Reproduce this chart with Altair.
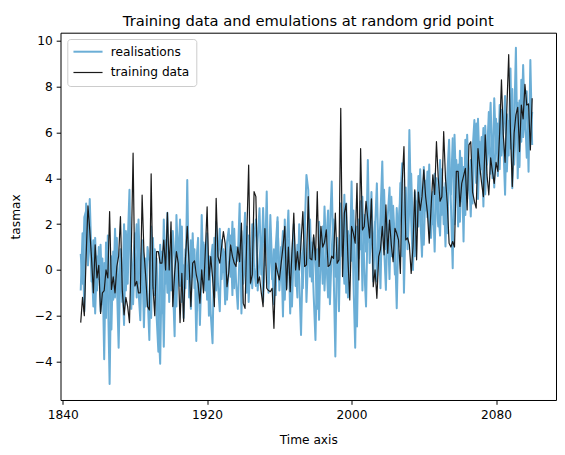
import altair as alt
import pandas as pd

start_year = 1850

training = [
    -2.3, -1.2, -2.0, 0.6, 2.8, 1.75, 0.5, -1.0, 1.1, -0.35,
    0.2, -1.9, -1.0, -0.9, 0.0, -0.35, 2.55, -0.85, -0.3, -1.0,
    0.15, 0.6, 2.33, -0.87, -1.96, -1.2, -1.6, -2.3, 0.8, 5.1,
    -0.7, -0.5, -1.0, -1.0, 3.27, 0.8, -0.3, -1.6, -1.75, 4.2,
    -0.7, -2.0, 0.8, 0.8, 0.3, 0.3, 1.3, 0.0, 2.5, 0.0,
    2.1, -1.6, -0.15, 0.8, 0.3, -2.3, -0.15, -2.25, 0.5, 1.9,
    0.3, -1.6, 0.3, 0.4, -0.2, -0.6, -1.45, 0.0, -1.0, 0.8,
    2.76, -0.44, 0.58, -0.3, -1.6, 3.13, 0.58, 0.3, 1.0, 1.67,
    1.15, -0.73, -0.1, 1.09, 0.6, 0.3, 0.15, 1.0, 0.36, 2.04,
    -1.45, -1.68, 1.6, 4.58, -0.58, -0.2, 3.42, 3.2, -0.58, -0.3,
    -1.0, -1.6, 1.8, -0.8, -0.9, -0.95, -0.8, -2.55, 0.3, -0.1,
    -0.44, 0.3, 1.0, 1.9, -0.87, 1.0, -0.95, 0.8, 2.48, 0.0,
    0.8, 0.0, 1.2, 2.55, 0.15, 0.22, 3.2, 0.5, 0.44, 1.53,
    0.44, 3.42, 0.15, 1.9, 1.0, 1.2, 1.75, 0.15, 0.22, 0.6,
    0.5, 2.48, 0.29, 0.44, 7.06, -0.29, 2.48, 2.9, 0.44, -1.31,
    1.9, 1.6, 1.17, 3.78, -0.44, 5.3, 1.75, 1.9, 3.0, 2.2,
    1.4, 3.1, -0.73, 0.0, -1.24, 0.58, 0.9, 1.9, 0.66, 2.84,
    0.73, 2.18, 1.1, 0.36, 1.82, 1.6, 1.31, -0.15, 3.78, 5.39,
    1.31, 1.4, 1.1, -0.15, 1.02, 3.5, 0.44, 3.4, 2.6, 3.2,
    4.37, 3.2, 2.5, 1.17, 2.7, 4.15, 3.3, 5.6, 4.0, 3.0,
    3.2, 6.04, 4.0, 2.9, 1.17, 1.0, 1.24, 1.0, 4.3, 4.3,
    2.77, 3.78, 4.1, 4.44, 2.62, 5.46, 5.6, 3.4, 3.0, 2.7,
    5.3, 4.5, 3.8, 3.2, 5.9, 4.15, 3.28, 4.9, 4.3, 3.78,
    4.7, 4.3, 6.0, 8.3, 5.9, 4.7, 7.1, 9.4, 6.0, 3.64,
    5.97, 6.77, 7.1, 5.17, 7.2, 6.6, 8.1, 7.2, 7.25, 5.24,
    7.5,
]

realisation_a = [
    0.7, -0.6, 2.3, 2.6, 1.2, 3.1, 0.4, -1.6, 1.4, -0.9,
    1.0, -1.8, 0.5, -3.9, 1.2, -0.7, -4.98, 0.6, -1.3, 1.8,
    -0.5, -3.4, 0.4, -1.4, 2.0, -0.9, 1.1, 3.5, -1.7, 0.3,
    1.6, -1.2, 2.2, -0.6, 0.9, -2.5, 0.5, -1.0, -3.06, 1.9,
    -0.8, 0.9, -2.0, -3.57, 1.1, -1.9, 2.2, -0.6, 2.5, -1.4,
    1.2, -0.5, -2.9, 2.4, 0.3, 2.2, -1.4, 0.2, -0.8, 3.93,
    -1.2, 1.3, -0.3, 0.9, -3.1, 0.4, -1.8, 2.4, -0.6, 1.1,
    -1.3, 0.6, -1.9, -3.2, 1.4, -0.9, 0.5, 1.8, -0.4, 0.9,
    -1.5, 1.2, 1.8, -0.3, 2.1, -0.8, 1.0, 0.4, 2.9, -1.9,
    0.7, 2.5, -1.0, 1.5, -0.6, 2.0, 0.1, -0.7, 1.3, 2.69,
    -0.2, 2.7, 0.2, 3.42, -1.0, 1.6, -0.4, 0.9, -1.1, 2.1,
    -0.5, 1.0, -2.03, 2.2, -0.8, 1.3, -1.9, 0.6, 2.0, -0.7,
    1.1, -0.4, -2.84, 0.7, 1.6, 4.15, 3.5, -0.3, 1.2, -1.1,
    -3.06, 0.9, -2.18, 1.5, -0.6, 2.77, 0.5, -1.2, 1.8, 3.86,
    0.2, -3.78, 1.4, -0.5, 2.9, 0.6, 3.28, -1.0, 1.7, 0.3,
    3.86, -0.4, -3.4, 1.9, 0.5, 3.0, -0.9, 2.4, 0.8, 4.8,
    0.3, 2.6, -0.5, 1.8, 3.78, 0.2, 2.4, 4.74, 1.0, -0.87,
    2.3, 3.6, 0.6, 2.8, 1.2, -1.67, 2.0, 3.1, 4.66, -1.0,
    2.6, 1.4, 6.11, 2.2, 0.0, 3.4, 1.8, 4.1, 2.4, 0.58,
    4.5, 2.6, 4.3, 1.6, 3.2, 2.0, 4.2, 3.0, 1.9, 4.8,
    2.4, 3.6, 1.02, 4.1, 5.68, 2.9, 0.07, 5.9, 3.2, 4.6,
    2.1, 4.9, 1.24, 5.68, 3.1, 4.4, 2.33, 5.2, 6.55, 3.8,
    6.6, 4.2, 5.8, 2.77, 6.3, 4.6, 5.5, 7.3, 4.0, 7.5,
    5.2, 6.4, 4.4, 7.0, 5.6, 3.28, 6.8, 5.0, 8.8, 3.57,
    6.2, 9.7, 4.0, 7.4, 5.6, 8.95, 6.3, 7.8, 4.29, 9.17,
    5.46,
]

realisation_b = [
    -0.9, 1.6, -1.8, 2.9, 0.2, 1.9, -0.5, 1.3, -1.9, 0.6,
    -0.4, 1.1, -1.5, 0.3, -2.1, 1.5, -0.9, -2.6, 0.8, -1.2,
    1.4, -1.9, 0.9, -0.3, -2.4, 1.7, -0.6, 2.3, 0.1, -1.5,
    0.7, 2.0, -0.9, -2.2, 1.3, 0.2, -1.6, 1.0, 0.4, -2.1,
    1.4, -1.1, 0.5, -2.3, -4.1, 0.8, -3.35, 1.3, -1.0, 0.6,
    -0.9, 1.7, 0.4, -1.6, 1.0, -0.7, 1.9, -2.1, 0.9, -0.4,
    0.5, -1.7, 1.6, -0.8, 0.3, 1.4, -2.4, 0.2, 1.2, -0.9,
    1.6, -2.0, 0.3, 1.1, -1.2, 2.1, -0.6, -1.8, 1.3, -0.1,
    0.8, -1.3, 0.2, 1.5, -1.1, 1.8, -0.5, -1.7, 0.9, 1.7,
    -0.6, 0.4, 1.9, -1.4, 0.6, -0.8, 1.4, 2.2, -0.9, 0.5,
    1.3, -1.4, 0.7, 1.9, -0.6, 2.4, 0.1, -1.5, 1.0, 2.3,
    -0.9, 0.4, 1.7, -1.3, 0.9, 2.6, -0.2, -1.6, 1.1, 0.3,
    -1.2, 2.0, 0.5, -0.8, 2.5, -1.4, 0.7, 2.2, -0.5, 1.4,
    0.1, -1.7, 2.1, 0.4, 1.9, -0.9, 1.2, 2.6, -1.5, 0.9,
    2.2, -0.3, 1.0, -1.8, 2.4, 0.8, -0.6, 2.9, -1.2, 1.5,
    0.4, 2.6, -0.2, -2.47, 2.2, 0.9, 3.2, 0.1, -1.6, 2.7,
    1.2, 3.4, 0.4, 2.1, -0.5, 1.6, -0.8, 2.9, 3.5, 0.9,
    2.0, -0.4, 3.2, 1.5, -0.2, 2.7, 1.0, 3.8, 0.6, 2.4,
    3.6, 0.9, 2.8, 4.2, 1.5, 0.6, 3.0, 1.9, 4.4, 2.2,
    1.1, 3.9, 2.3, 4.6, 1.4, 3.4, 0.8, 4.0, 2.6, 1.5,
    4.4, 2.0, 3.8, 1.6, 4.5, 3.3, 5.75, 2.0, 4.8, 1.9,
    5.2, 3.0, 4.5, 2.4, 5.9, 3.5, 4.8, 2.9, 5.5, 6.4,
    3.1, 5.6, 4.4, 6.2, 3.3, 5.0, 6.9, 4.2, 5.8, 3.6,
    6.6, 4.1, 7.2, 5.0, 6.0, 7.6, 4.3, 6.5, 5.3, 7.9,
    4.6, 6.4, 7.3, 4.5, 8.3, 5.8, 7.0, 4.9, 6.8, 5.6,
    6.9,
]

x_ticks = [1840, 1920, 2000, 2080]
y_ticks = [-4, -2, 0, 2, 4, 6, 8, 10]
series_names = ["realisations", "training data"]
series_colors = ["#6baed6", "#1a1a1a"]
series_widths = [2.0, 1.2]

rows = []
for run, vals in (("r1", realisation_a), ("r2", realisation_b)):
    for i, v in enumerate(vals):
        rows.append({"year": start_year + i, "value": v, "run": run, "series": "realisations"})
real_df = pd.DataFrame(rows)
train_df = pd.DataFrame({
    "year": [start_year + i for i in range(len(training))],
    "value": training,
    "run": "train",
    "series": "training data",
})

FONT = "DejaVu Sans"
W, H = 495.5, 367.3

x_enc = alt.X("year:Q",
              scale=alt.Scale(domain=[1838.8, 2113.2], nice=False, zero=False),
              axis=alt.Axis(values=x_ticks, format="d", title="Time axis",
                            titleY=43, titleBaseline="alphabetic"))
y_enc = alt.Y("value:Q",
              scale=alt.Scale(domain=[-5.68, 10.36], nice=False, zero=False),
              axis=alt.Axis(values=y_ticks, format="d", title="tasmax",
                            labelExpr="replace(datum.label, '-', '\u2212')",
                            titleX=-45.5, titleY=H / 2, titleBaseline="middle",
                            titleAngle=270))
color_enc = alt.Color("series:N",
                      scale=alt.Scale(domain=series_names, range=series_colors),
                      legend=alt.Legend(title=None, orient="none", legendX=6.8, legendY=6.3,
                                        symbolType="M-3,0H3", symbolSize=94,
                                        symbolOffset=8,
                                        labelFont=FONT, labelFontSize=12.2, labelColor="black",
                                        labelOffset=16.7, rowPadding=7.8, padding=6.6,
                                        strokeColor="#cccccc", fillColor="white",
                                        cornerRadius=3))
sw_enc = alt.StrokeWidth("series:N",
                         scale=alt.Scale(domain=series_names, range=series_widths),
                         legend=None)

real_layer = alt.Chart(real_df).mark_line(strokeJoin="round").encode(
    x=x_enc, y=y_enc, color=color_enc, strokeWidth=sw_enc, detail="run:N"
)
train_layer = alt.Chart(train_df).mark_line(strokeJoin="round").encode(
    x=x_enc, y=y_enc, color=color_enc, strokeWidth=sw_enc, detail="run:N"
)

chart = alt.layer(real_layer, train_layer).properties(
    width=W, height=H,
    title=alt.TitleParams("Training data and emulations at random grid point",
                          font=FONT, fontSize=14.7, fontWeight="normal", color="black",
                          anchor="middle", baseline="alphabetic", offset=7.7, dy=16),
    padding={"left": 52.5, "top": 24.7, "right": 1, "bottom": 45},
    autosize="none",
).configure(
    background="white"
).configure_view(
    stroke="black", strokeWidth=1
).configure_axis(
    grid=False, domain=False, tickColor="black", tickSize=4.3, tickWidth=1,
    labelFont=FONT, labelFontSize=12.2, labelColor="black", labelPadding=4,
    titleFont=FONT, titleFontSize=12.2, titleColor="black", titleFontWeight="normal",
)

chart.save("out.html", embed_options={"renderer": "svg", "actions": False})
